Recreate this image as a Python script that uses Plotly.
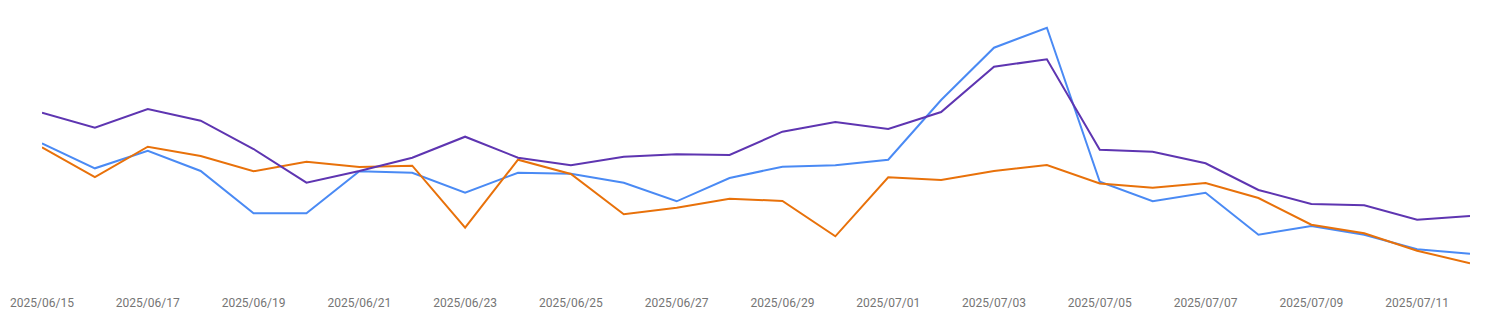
import plotly.graph_objects as go
import pandas as pd

dates = pd.date_range("2025-06-15", "2025-07-12", freq="D").strftime("%Y-%m-%d").tolist()

# values (arbitrary units, higher = up)
series_blue = [156.7, 131.7, 149.3, 129.0, 86.7, 86.7, 128.7, 127.3, 107.3, 127.3,
               126.3, 117.3, 98.7, 122.0, 133.3, 134.7, 140.3, 200.0, 252.3, 272.3,
               118.3, 98.7, 107.3, 65.3, 74.0, 65.3, 50.7, 46.3]
series_orange = [152.7, 123.0, 153.3, 144.0, 128.7, 138.3, 133.0, 134.3, 72.3, 140.3,
                 126.0, 85.7, 92.3, 101.3, 99.0, 63.7, 122.7, 120.0, 129.0, 135.0,
                 116.5, 112.3, 117.0, 102.0, 75.3, 66.7, 49.3, 36.7]
series_purple = [187.3, 172.3, 191.0, 179.3, 151.0, 117.3, 129.0, 142.3, 163.3, 142.3,
                 134.7, 143.3, 145.7, 145.0, 168.3, 178.0, 171.0, 188.0, 233.3, 240.7,
                 150.3, 148.3, 136.7, 110.0, 96.0, 94.7, 80.3, 84.0]

tick_vals = dates[::2]
tick_text = [d.replace("-", "/") for d in tick_vals]

fig = go.Figure()
for name, vals, color in [
    ("Series 1", series_blue, "#4a8af4"),
    ("Series 2", series_orange, "#e8710a"),
    ("Series 3", series_purple, "#5e35b1"),
]:
    fig.add_trace(go.Scatter(x=dates, y=vals, mode="lines", name=name,
                             line=dict(color=color, width=2), showlegend=False))

fig.update_layout(
    width=1490, height=324,
    margin=dict(l=42, r=20, t=10, b=44),
    paper_bgcolor="white", plot_bgcolor="white",
    font=dict(family="Roboto", size=12, color="#757575"),
)
fig.update_xaxes(range=[dates[0], dates[-1]], tickmode="array", tickvals=tick_vals,
                 ticktext=tick_text, showgrid=False, zeroline=False, showline=False,
                 ticks="", tickfont=dict(family="Roboto", size=12, color="#757575"),
                 ticklabelstandoff=14)
fig.update_yaxes(range=[20, 290], showgrid=False, zeroline=False, showline=False,
                 showticklabels=False, ticks="")

fig.write_html("out.html")
